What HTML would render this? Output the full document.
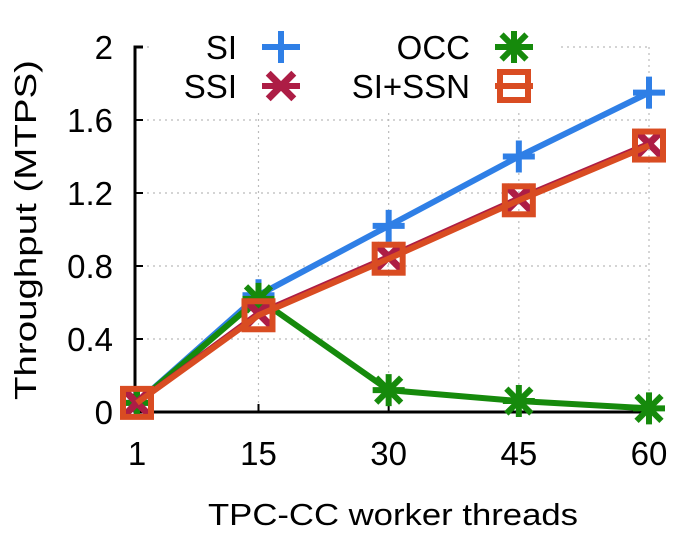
<!DOCTYPE html>
<html><head><meta charset="utf-8"><style>
body{margin:0;background:#fff}
svg text{font-family:"Liberation Sans",sans-serif;fill:#000}
</style></head><body>
<svg id="chart" width="677" height="540" viewBox="0 0 677 540" xmlns="http://www.w3.org/2000/svg">
<g id="grid"></g>
<g id="axes"></g>
<g id="series"></g>
<g id="legend"></g>
<text transform="translate(36,230) rotate(-90)" text-anchor="middle" font-size="31" textLength="340" lengthAdjust="spacingAndGlyphs">Throughput (MTPS)</text>
<text x="393" y="525" text-anchor="middle" font-size="31" textLength="370" lengthAdjust="spacingAndGlyphs">TPC-CC worker threads</text>
</svg>
<script>
const categories=[1,15,30,45,60];
const siValues=[0.05,0.64,1.02,1.40,1.75];
const ssiValues=[0.05,0.54,0.85,1.17,1.47];
const occValues=[0.05,0.62,0.12,0.06,0.02];
const ssnValues=[0.05,0.53,0.84,1.16,1.46];
const yTicks=[0,0.4,0.8,1.2,1.6,2];
const yTickLabels=["0","0.4","0.8","1.2","1.6","2"];
const NS="http://www.w3.org/2000/svg";
function x(v){return 137+(v-1)*(649-137)/59;}
function y(v){return 412-v*(412-47)/2;}
function mk(tag,attrs,parent){const e=document.createElementNS(NS,tag);for(const k in attrs)e.setAttribute(k,attrs[k]);parent.appendChild(e);return e;}
const grid=document.getElementById('grid'),axes=document.getElementById('axes'),ser=document.getElementById('series'),leg=document.getElementById('legend');
yTicks.forEach((t,i)=>{
  if(t>0){let l=mk('line',{x1:135,x2:649,y1:y(t),y2:y(t),stroke:'#bbb','stroke-width':1.2,'stroke-dasharray':'2,4'},grid);
  }
  let tk=mk('line',{x1:135,x2:143,y1:y(t),y2:y(t),stroke:'#000','stroke-width':2},axes);
  
  let tx=mk('text',{x:113,y:y(t)+12,'text-anchor':'end','font-size':33},axes);tx.textContent=yTickLabels[i];
  
});
categories.forEach(c=>{
  if(c>1){let l=mk('line',{x1:x(c),x2:x(c),y1:47,y2:412,stroke:'#bbb','stroke-width':1.2,'stroke-dasharray':'2,4'},grid);
  }
  let tk=mk('line',{x1:x(c),x2:x(c),y1:412,y2:404,stroke:'#000','stroke-width':2},axes);
  
  let tx=mk('text',{x:x(c),y:465,'text-anchor':'middle','font-size':33},axes);tx.textContent=String(c);
  
});
let cover=mk('rect',{x:150,y:28,width:410,height:82,fill:'#fff'},grid);

let ax=mk('path',{d:'M143,47 H135 V412 H649',fill:'none',stroke:'#000','stroke-width':3},axes);

function marker(type,cx,cy,color,g){
  const s=16,w=6;
  if(type==='plus'){mk('path',{d:`M${cx-s},${cy}H${cx+s}M${cx},${cy-s}V${cy+s}`,stroke:color,'stroke-width':w,fill:'none'},g);}
  else if(type==='x'){const d=s*0.8;mk('path',{d:`M${cx-d},${cy-d}L${cx+d},${cy+d}M${cx-d},${cy+d}L${cx+d},${cy-d}`,stroke:color,'stroke-width':w+1,fill:'none'},g);}
  else if(type==='star'){const d=s*0.78;mk('path',{d:`M${cx-d},${cy-d}L${cx+d},${cy+d}M${cx-d},${cy+d}L${cx+d},${cy-d}M${cx-s},${cy}H${cx+s}M${cx},${cy-s}V${cy+s}`,stroke:color,'stroke-width':w,fill:'none'},g);}
  else {mk('rect',{x:cx-14,y:cy-14,width:28,height:28,stroke:color,'stroke-width':w,fill:'none'},g);}
}
const defs=[
 {name:'SI',vals:siValues,color:'#2f7fe6',m:'plus',lx:237,ly:47},
 {name:'OCC',vals:occValues,color:'#168a0c',m:'star',lx:470,ly:47},
 {name:'SSI',vals:ssiValues,color:'#ad1d45',m:'x',lx:237,ly:86},
 {name:'SI+SSN',vals:ssnValues,color:'#d94c22',m:'square',lx:470,ly:86}
];
[0,1,2,3].forEach(i=>{
  const d=defs[i];
  const g=mk('g',{},ser);
  
  
  const pts=d.vals.map((v,j)=>x(categories[j])+','+y(v)).join(' ');
  mk('polyline',{points:pts,fill:'none',stroke:d.color,'stroke-width':6,'stroke-linejoin':'round'},g);
  d.vals.forEach((v,j)=>marker(d.m,x(categories[j]),y(v),d.color,g));
  const lg=mk('g',{},leg);
  
  
  const t=mk('text',{x:d.lx,y:d.ly+12,'text-anchor':'end','font-size':33},lg);t.textContent=d.name;
  mk('line',{x1:d.lx+25,x2:d.lx+63,y1:d.ly,y2:d.ly,stroke:d.color,'stroke-width':6},lg);
  marker(d.m,d.lx+44,d.ly,d.color,lg);
});
</script>
</body></html>
